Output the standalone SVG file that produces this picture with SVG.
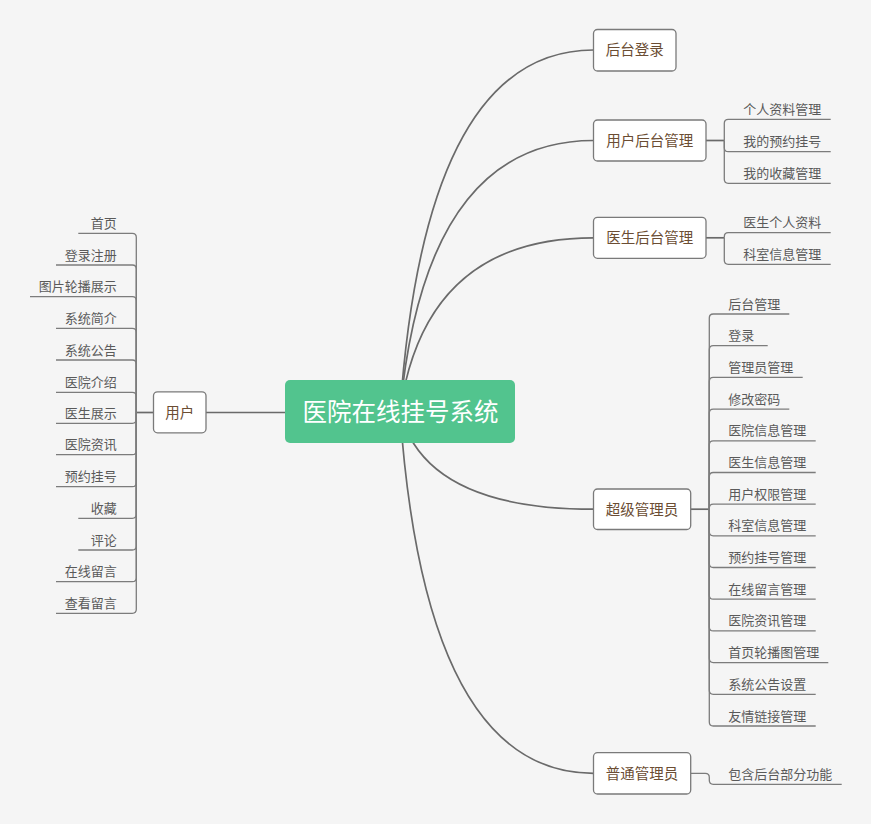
<svg xmlns="http://www.w3.org/2000/svg" width="871" height="824" viewBox="0 0 871 824">
<style>
.bg{fill:#f5f5f5}
.conn{fill:none;stroke:#6a6a6a;stroke-width:1.7}
.br{fill:none;stroke:#7c7c7c;stroke-width:1.3}
.box{fill:#ffffff;stroke:#7a7a7a;stroke-width:1.3}
.nt{font-family:"Noto Sans CJK SC","Noto Sans",sans-serif;font-size:14.5px;fill:#6b4d33;text-anchor:middle}
.ct{font-family:"Noto Sans CJK SC","Noto Sans",sans-serif;font-size:13px;fill:#5a5a5a}
.l{text-anchor:end}
.root{fill:#52c48e}
.rt{font-family:"Noto Sans CJK SC","Noto Sans",sans-serif;font-size:24.5px;fill:#ffffff;text-anchor:middle}
</style>
<rect class="bg" x="0" y="0" width="871" height="824"/>
<g id="connectors">
<path class="conn" d="M400,411.5 Q425,50 593.5,50"/>
<path class="conn" d="M400,411.5 Q425,140.5 593.5,140.5"/>
<path class="conn" d="M400,411.5 Q425,237.8 593.5,237.8"/>
<path class="conn" d="M400,411.5 Q425,509.2 593.5,509.2"/>
<path class="conn" d="M400,411.5 Q425,773.3 593.5,773.3"/>
<path class="conn" d="M285,412.5 H206"/>
<path class="conn" d="M153.5,412.5 H136.3"/>
<path class="conn" d="M706,140.5 H724.3"/>
<path class="conn" d="M706,237.8 H724.3"/>
<path class="conn" d="M690.7,509.2 H709.3"/>
<g id="bracket-user">
<path class="br" d="M136.3,412.5 V237.3 Q136.3,233.3 132.3,233.3 H78.3"/>
<path class="br" d="M136.3,412.5 V269 Q136.3,265 132.3,265 H56"/>
<path class="br" d="M136.3,412.5 V300.7 Q136.3,296.7 132.3,296.7 H30"/>
<path class="br" d="M136.3,412.5 V332.3 Q136.3,328.3 132.3,328.3 H56"/>
<path class="br" d="M136.3,412.5 V364 Q136.3,360 132.3,360 H56"/>
<path class="br" d="M136.3,412.5 V396.3 Q136.3,392.3 132.3,392.3 H56"/>
<path class="br" d="M136.3,412.5 V419.3 Q136.3,423.3 132.3,423.3 H56"/>
<path class="br" d="M136.3,412.5 V450.7 Q136.3,454.7 132.3,454.7 H56"/>
<path class="br" d="M136.3,412.5 V482.7 Q136.3,486.7 132.3,486.7 H56"/>
<path class="br" d="M136.3,412.5 V514.3 Q136.3,518.3 132.3,518.3 H78.3"/>
<path class="br" d="M136.3,412.5 V546 Q136.3,550 132.3,550 H78.3"/>
<path class="br" d="M136.3,412.5 V577.7 Q136.3,581.7 132.3,581.7 H56"/>
<path class="br" d="M136.3,412.5 V609.3 Q136.3,613.3 132.3,613.3 H56"/>
</g>
<g id="bracket-userbackend">
<path class="br" d="M724.3,140.5 V123.3 Q724.3,119.3 728.3,119.3 H830.7"/>
<path class="br" d="M724.3,140.5 V147.7 Q724.3,151.7 728.3,151.7 H830.7"/>
<path class="br" d="M724.3,140.5 V179.3 Q724.3,183.3 728.3,183.3 H830.7"/>
</g>
<g id="bracket-doctorbackend">
<path class="br" d="M724.3,237.8 V236.7 Q724.3,232.7 728.3,232.7 H830.7"/>
<path class="br" d="M724.3,237.8 V260.3 Q724.3,264.3 728.3,264.3 H830.7"/>
</g>
<g id="bracket-superadmin">
<path class="br" d="M709.3,509.2 V318 Q709.3,314 713.3,314 H789.3"/>
<path class="br" d="M709.3,509.2 V349.7 Q709.3,345.7 713.3,345.7 H767.7"/>
<path class="br" d="M709.3,509.2 V381.4 Q709.3,377.4 713.3,377.4 H802.7"/>
<path class="br" d="M709.3,509.2 V413.1 Q709.3,409.1 713.3,409.1 H789.3"/>
<path class="br" d="M709.3,509.2 V444.8 Q709.3,440.8 713.3,440.8 H815.7"/>
<path class="br" d="M709.3,509.2 V476.5 Q709.3,472.5 713.3,472.5 H815.7"/>
<path class="br" d="M709.3,509.2 V508.1 Q709.3,504.1 713.3,504.1 H815.7"/>
<path class="br" d="M709.3,509.2 V531.8 Q709.3,535.8 713.3,535.8 H815.7"/>
<path class="br" d="M709.3,509.2 V563.5 Q709.3,567.5 713.3,567.5 H815.7"/>
<path class="br" d="M709.3,509.2 V595.2 Q709.3,599.2 713.3,599.2 H815.7"/>
<path class="br" d="M709.3,509.2 V626.9 Q709.3,630.9 713.3,630.9 H815.7"/>
<path class="br" d="M709.3,509.2 V658.6 Q709.3,662.6 713.3,662.6 H828.3"/>
<path class="br" d="M709.3,509.2 V690.3 Q709.3,694.3 713.3,694.3 H815.7"/>
<path class="br" d="M709.3,509.2 V722 Q709.3,726 713.3,726 H815.7"/>
</g>
<g id="bracket-normaladmin">
<path class="br" d="M690.7,773.3 H705.3 Q709.3,773.3 709.3,777.3 V780.3 Q709.3,784.3 713.3,784.3 H841.7"/>
</g>
</g>
<g id="node-root">
<rect class="root" x="285" y="380" width="230" height="63" rx="5"/>
<text class="rt" x="400.5" y="420.5">医院在线挂号系统</text>
</g>
<g id="node-user">
<rect class="box" x="153.5" y="391.8" width="52.5" height="41" rx="4"/>
<text class="nt" x="179.8" y="417.5">用户</text>
</g>
<g id="node-login">
<rect class="box" x="593.5" y="29.5" width="82.5" height="41.5" rx="4"/>
<text class="nt" x="634.8" y="55.3">后台登录</text>
</g>
<g id="node-userbackend">
<rect class="box" x="593.5" y="120" width="112.5" height="41" rx="4"/>
<text class="nt" x="649.8" y="145.8">用户后台管理</text>
</g>
<g id="node-doctorbackend">
<rect class="box" x="593.5" y="217.3" width="112.5" height="41" rx="4"/>
<text class="nt" x="649.8" y="243.1">医生后台管理</text>
</g>
<g id="node-superadmin">
<rect class="box" x="593.5" y="489" width="97.2" height="40.5" rx="4"/>
<text class="nt" x="642.1" y="514.5">超级管理员</text>
</g>
<g id="node-normaladmin">
<rect class="box" x="593.5" y="752.7" width="97.2" height="41.3" rx="4"/>
<text class="nt" x="642.1" y="778.6">普通管理员</text>
</g>
<g id="user-children">
<text class="ct l" x="116.7" y="227.8">首页</text>
<text class="ct l" x="116.7" y="259.5">登录注册</text>
<text class="ct l" x="116.7" y="291.2">图片轮播展示</text>
<text class="ct l" x="116.7" y="322.8">系统简介</text>
<text class="ct l" x="116.7" y="354.5">系统公告</text>
<text class="ct l" x="116.7" y="386.8">医院介绍</text>
<text class="ct l" x="116.7" y="417.8">医生展示</text>
<text class="ct l" x="116.7" y="449.2">医院资讯</text>
<text class="ct l" x="116.7" y="481.2">预约挂号</text>
<text class="ct l" x="116.7" y="512.8">收藏</text>
<text class="ct l" x="116.7" y="544.5">评论</text>
<text class="ct l" x="116.7" y="576.2">在线留言</text>
<text class="ct l" x="116.7" y="607.8">查看留言</text>
</g>
<g id="userbackend-children">
<text class="ct" x="743.3" y="113.8">个人资料管理</text>
<text class="ct" x="743.3" y="146.2">我的预约挂号</text>
<text class="ct" x="743.3" y="177.8">我的收藏管理</text>
</g>
<g id="doctorbackend-children">
<text class="ct" x="743.3" y="227.2">医生个人资料</text>
<text class="ct" x="743.3" y="258.8">科室信息管理</text>
</g>
<g id="superadmin-children">
<text class="ct" x="728.3" y="308.5">后台管理</text>
<text class="ct" x="728.3" y="340.2">登录</text>
<text class="ct" x="728.3" y="371.9">管理员管理</text>
<text class="ct" x="728.3" y="403.6">修改密码</text>
<text class="ct" x="728.3" y="435.3">医院信息管理</text>
<text class="ct" x="728.3" y="467">医生信息管理</text>
<text class="ct" x="728.3" y="498.6">用户权限管理</text>
<text class="ct" x="728.3" y="530.3">科室信息管理</text>
<text class="ct" x="728.3" y="562">预约挂号管理</text>
<text class="ct" x="728.3" y="593.7">在线留言管理</text>
<text class="ct" x="728.3" y="625.4">医院资讯管理</text>
<text class="ct" x="728.3" y="657.1">首页轮播图管理</text>
<text class="ct" x="728.3" y="688.8">系统公告设置</text>
<text class="ct" x="728.3" y="720.5">友情链接管理</text>
</g>
<g id="normaladmin-children">
<text class="ct" x="728.3" y="778.8">包含后台部分功能</text>
</g>
</svg>
